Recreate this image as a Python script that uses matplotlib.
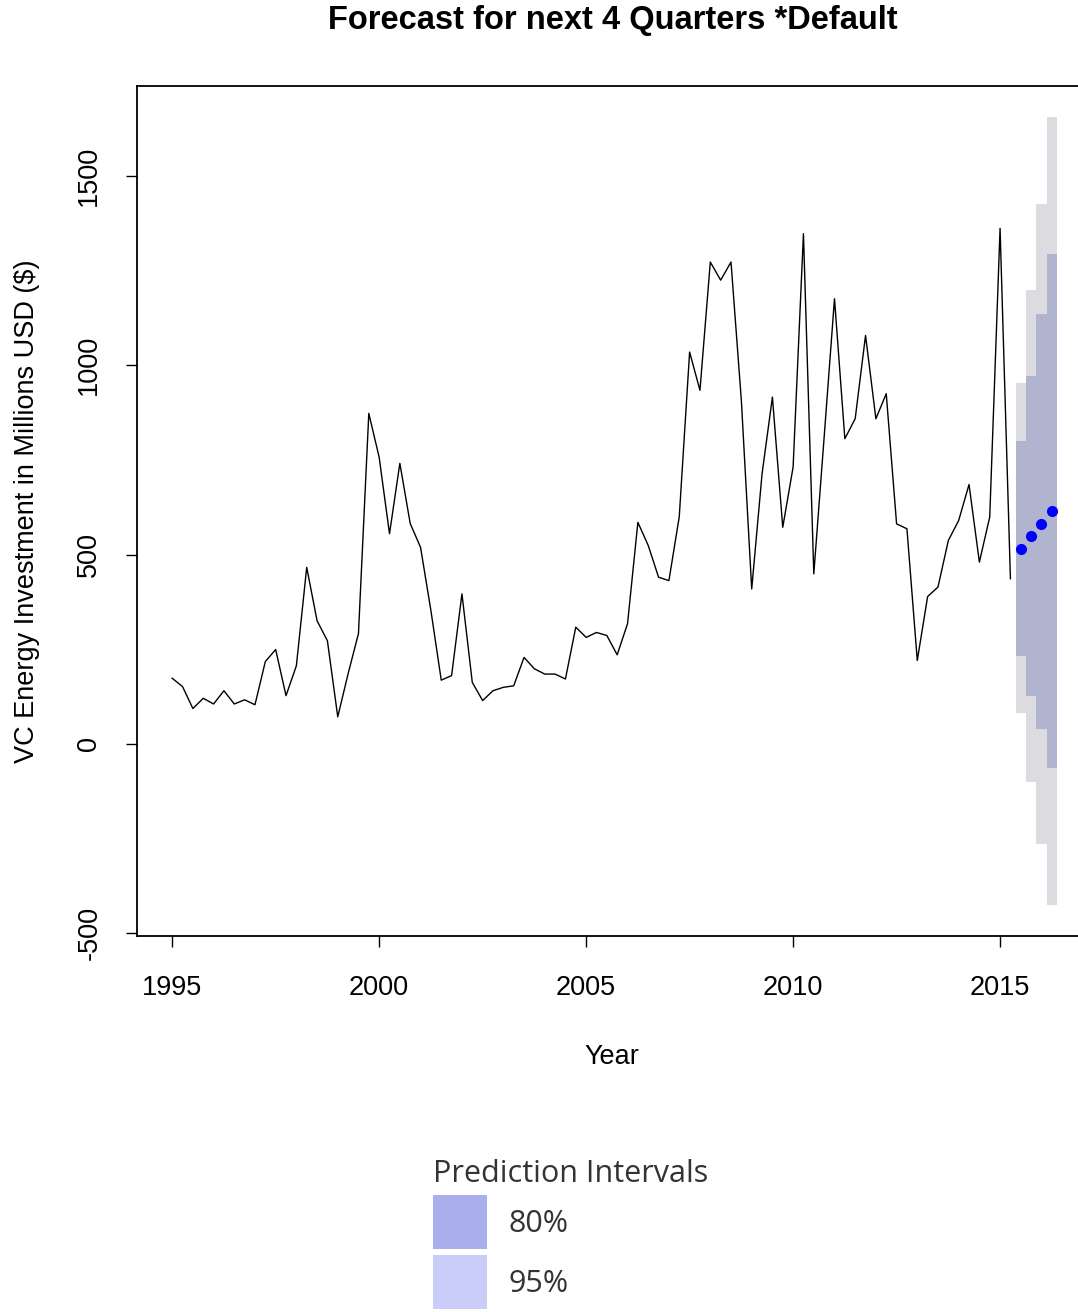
import numpy as np
import matplotlib
matplotlib.use("Agg")
import matplotlib.pyplot as plt
from matplotlib.patches import Patch

# ---------------- data ----------------
start_year = 1995
values = [173, 151, 93, 120,
          105, 140, 105, 116,
          103, 217, 249, 127,
          206, 466, 325, 272,
          71, 185, 291, 873,
          757, 555, 741, 582,
          519, 352, 168, 180,
          396, 162, 114, 140,
          149, 153, 228, 198,
          184, 184, 171, 308,
          281, 294, 286, 235,
          317, 585, 524, 440,
          431, 600, 1035, 934,
          1273, 1225, 1273, 907,
          409, 713, 916, 572,
          731, 1348, 449, 810,
          1176, 806, 859, 1079,
          859, 925, 581, 568,
          220, 389, 414, 537,
          590, 685, 480, 599,
          1362, 436]
fc_mean = [515, 548, 581, 616]
fc_lo80 = [233, 126, 39, -65]
fc_hi80 = [801, 971, 1136, 1295]
fc_lo95 = [80, -100, -266, -425]
fc_hi95 = [953, 1200, 1427, 1655]
xticks = [1995, 2000, 2005, 2010, 2015]
yticks = [-500, 0, 500, 1000, 1500]
legend_labels = ["80%", "95%"]
legend_colors = ["#AAAEEC", "#C9CDF8"]
band_colors = {"95": "#DBDBE0", "80": "#B1B4CF"}

t = start_year + np.arange(len(values)) / 4.0
t_fc = t[-1] + (np.arange(len(fc_mean)) + 1) / 4.0

# ---------------- figure ----------------
W, H = 1078, 1312
fig = plt.figure(figsize=(W / 100, H / 100), dpi=100)
plt.rcParams['font.family'] = ['Liberation Sans', 'DejaVu Sans']

left, right, top, bottom = 137, 1087, 86, 936
ax = fig.add_axes([left / W, 1 - bottom / H, (right - left) / W, (bottom - top) / H])

ax.bar(t_fc, np.array(fc_hi95) - np.array(fc_lo95), bottom=fc_lo95, width=0.25,
       color=band_colors["95"], linewidth=0, zorder=1)
ax.bar(t_fc, np.array(fc_hi80) - np.array(fc_lo80), bottom=fc_lo80, width=0.25,
       color=band_colors["80"], linewidth=0, zorder=2)
ax.plot(t, values, color="black", lw=1.0, zorder=3)
ax.plot(t_fc, fc_mean, "o", color="#0000FF", markersize=8, markeredgewidth=0, zorder=4)

xmin, xmax = t[0], t_fc[-1]
xr = (xmax - xmin) * 0.04
ax.set_xlim(xmin - xr, xmax + xr)
ymin, ymax = min(fc_lo95), max(fc_hi95)
yr = (ymax - ymin) * 0.04
ax.set_ylim(ymin - yr, ymax + yr)

fs = 19.5
ax.set_xticks(xticks)
ax.set_xticklabels([str(x) for x in xticks], fontsize=fs)
ax.set_yticks(yticks)
ax.set_yticklabels([str(y) for y in yticks], fontsize=fs, rotation=90, va="center")
ax.tick_params(axis="both", direction="out", length=8, width=1.0, color="black")
ax.tick_params(axis="x", pad=20)
ax.tick_params(axis="y", pad=17)
for s in ax.spines.values():
    s.set_linewidth(1.3)
    s.set_color("black")

ax.set_xlabel("Year", fontsize=fs, labelpad=31)
ax.set_ylabel("VC Energy Investment in Millions USD ($)", fontsize=fs, labelpad=26)
fig.text(613 / W, 1 - 21 / H, "Forecast for next 4 Quarters *Default",
         fontsize=23.5, fontweight="bold", ha="center", va="center")

lfs = 22
handles = [Patch(facecolor=c, edgecolor="none") for c in legend_colors]
leg = fig.legend(handles, legend_labels, loc="upper left",
                 bbox_to_anchor=(433 / W, 1 - 1159 / H), bbox_transform=fig.transFigure,
                 frameon=False, title="Prediction Intervals", alignment="left",
                 prop={"family": "Open Sans", "size": lfs},
                 title_fontproperties={"family": "Open Sans", "size": lfs},
                 handlelength=1.77, handleheight=2.34, labelspacing=0.2,
                 handletextpad=0.69, borderpad=0, borderaxespad=0)
for txt in leg.get_texts():
    txt.set_color("#333333")
leg.get_title().set_color("#333333")

fig.savefig("out.png", dpi=100)
